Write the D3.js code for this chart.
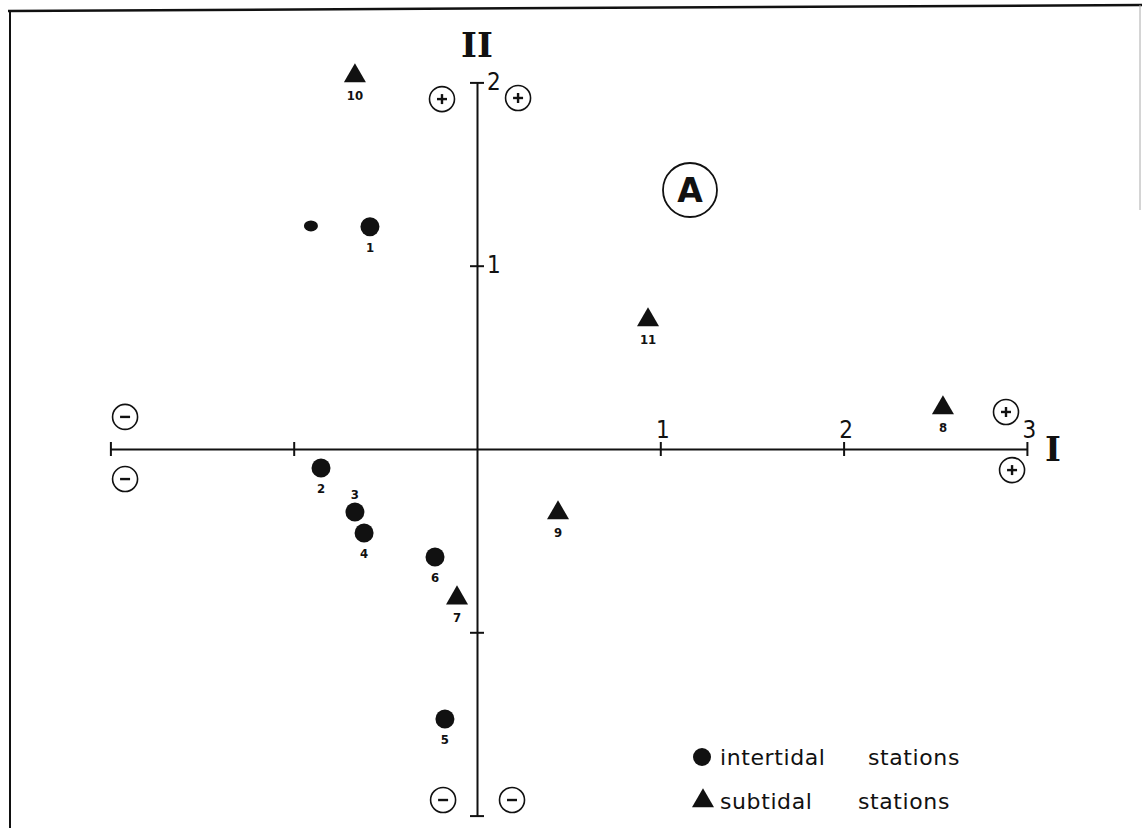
<!DOCTYPE html>
<html>
<head>
<meta charset="UTF-8">
<title>Stations ordination</title>
<script src="https://d3js.org/d3.v7.min.js"></script>
<style>
    body, html {
        margin: 0;
        padding: 0;
        background: #fff;
    }
    .tick text {
        font-family: "DejaVu Sans Condensed", "DejaVu Sans", sans-serif;
        font-size: 24px;
        fill: #111;
    }
    .ptLabel {
        font-family: "DejaVu Sans Condensed", "DejaVu Sans", sans-serif;
        font-size: 13px;
        font-weight: bold;
        fill: #111;
    }
    .legendText {
        font-family: "DejaVu Sans", sans-serif;
        font-size: 22px;
        letter-spacing: 0.6px;
        fill: #111;
    }
</style>
</head>
<body>
<div id="chart"></div>
<script>
    // axis I (x) and axis II (y) ticks
    const xTicks = [-2, -1, 0, 1, 2, 3];
    const yTicks = [-2, -1, 0, 1, 2];

    // intertidal stations (circles)
    const intertidalIds = [1, 2, 3, 4, 5, 6];
    const intertidalX = [-0.584, -0.851, -0.666, -0.616, -0.175, -0.229];
    const intertidalY = [1.212, -0.104, -0.344, -0.458, -1.473, -0.589];

    // subtidal stations (triangles)
    const subtidalIds = [7, 8, 9, 10, 11];
    const subtidalX = [-0.109, 2.542, 0.442, -0.666, 0.933];
    const subtidalY = [-0.813, 0.224, -0.349, 2.035, 0.704];

    // small unlabeled dot next to station 1
    const strayDot = [-0.906, 1.217];

    // circled + / - signs at the ends of both axes
    const signText = ["+", "+", "−", "−", "−", "−", "+", "+"];
    const signX = [-0.191, 0.224, -0.185, 0.191, -1.920, -1.920, 2.886, 2.919];
    const signY = [1.909, 1.915, -1.915, -1.915, 0.175, -0.164, 0.202, -0.115];

    const panelLabel = "A";
    const panelPos = [1.162, 1.413];

    const legendItems = [["intertidal", "stations"], ["subtidal", "stations"]];

    const width = 1142, height = 828;

    const svg = d3.select("#chart").append("svg")
        .attr("width", width)
        .attr("height", height);

    // scanned page frame
    svg.append("line").attr("x1", 8).attr("y1", 11).attr("x2", 1142).attr("y2", 5)
        .attr("stroke", "#111").attr("stroke-width", 2.5);
    svg.append("line").attr("x1", 10).attr("y1", 11).attr("x2", 10).attr("y2", 828)
        .attr("stroke", "#111").attr("stroke-width", 2);
    svg.append("line").attr("x1", 1140).attr("y1", 5).attr("x2", 1140).attr("y2", 210)
        .attr("stroke", "#aaa").attr("stroke-width", 1);

    const x = d3.scaleLinear().domain([-2, 3]).range([110.4, 1026.9]);
    const y = d3.scaleLinear().domain([-2, 2]).range([815.6, 82.4]);

    // axis I
    const xAxis = svg.append("g")
        .attr("transform", "translate(0," + y(0) + ")")
        .call(d3.axisTop(x).tickValues(xTicks.filter(d => d !== 0))
            .tickSize(7).tickSizeOuter(0)
            .tickFormat(d => d > 0 ? d : ""));
    xAxis.select(".domain").attr("stroke", "#111").attr("stroke-width", 2);
    xAxis.selectAll(".tick line").attr("y2", 7).attr("y1", -7)
        .attr("stroke", "#111").attr("stroke-width", 2);
    xAxis.selectAll(".tick text").attr("y", -11).attr("dx", 2);

    // axis II
    const yAxis = svg.append("g")
        .attr("transform", "translate(" + x(0) + ",0)")
        .call(d3.axisRight(y).tickValues(yTicks.filter(d => d !== 0))
            .tickSize(7).tickSizeOuter(0)
            .tickFormat(d => d > 0 ? d : ""));
    yAxis.select(".domain").attr("stroke", "#111").attr("stroke-width", 2);
    yAxis.selectAll(".tick line").attr("x1", -7)
        .attr("stroke", "#111").attr("stroke-width", 2);
    yAxis.selectAll(".tick text").attr("x", 10).attr("dy", "0.3em");

    // axis titles
    svg.append("text")
        .attr("x", x(0)).attr("y", 57)
        .attr("text-anchor", "middle")
        .style("font-family", "'DejaVu Serif', serif")
        .style("font-weight", "bold")
        .style("font-size", "34px")
        .style("fill", "#111")
        .text("II");
    svg.append("text")
        .attr("x", 1053).attr("y", y(0) + 12)
        .attr("text-anchor", "middle")
        .style("font-family", "'DejaVu Serif', serif")
        .style("font-weight", "bold")
        .style("font-size", "34px")
        .style("fill", "#111")
        .text("I");

    // circled signs
    const signs = signText.map((t, i) => ({t: t, x: signX[i], y: signY[i]}));
    const sg = svg.selectAll(".sign").data(signs).enter().append("g")
        .attr("class", "sign")
        .attr("transform", d => "translate(" + x(d.x) + "," + y(d.y) + ")");
    sg.append("circle").attr("r", 12.5)
        .attr("fill", "none").attr("stroke", "#111").attr("stroke-width", 1.6);
    sg.append("line")
        .attr("x1", -5).attr("x2", 5)
        .attr("stroke", "#111").attr("stroke-width", 2.4);
    sg.filter(d => d.t === "+").append("line")
        .attr("y1", -5).attr("y2", 5)
        .attr("stroke", "#111").attr("stroke-width", 2.4);

    // panel label
    const pg = svg.append("g")
        .attr("transform", "translate(" + x(panelPos[0]) + "," + y(panelPos[1]) + ")");
    pg.append("circle").attr("r", 27)
        .attr("fill", "none").attr("stroke", "#111").attr("stroke-width", 1.8);
    pg.append("text")
        .attr("text-anchor", "middle").attr("y", 12)
        .style("font-family", "'DejaVu Sans', sans-serif")
        .style("font-weight", "bold")
        .style("font-size", "33px")
        .style("fill", "#111")
        .text(panelLabel);

    // stations
    const intertidal = intertidalIds.map((id, i) => ({id: id, x: intertidalX[i], y: intertidalY[i]}));
    const subtidal = subtidalIds.map((id, i) => ({id: id, x: subtidalX[i], y: subtidalY[i]}));

    svg.append("ellipse")
        .attr("cx", x(strayDot[0])).attr("cy", y(strayDot[1]))
        .attr("rx", 7).attr("ry", 5.5).attr("fill", "#111");

    svg.selectAll(".inter").data(intertidal).enter().append("circle")
        .attr("class", "inter")
        .attr("cx", d => x(d.x)).attr("cy", d => y(d.y))
        .attr("r", 9.5).attr("fill", "#111");

    const tri = d3.symbol().type(d3.symbolTriangle).size(210);
    svg.selectAll(".sub").data(subtidal).enter().append("path")
        .attr("class", "sub")
        .attr("d", tri)
        .attr("transform", d => "translate(" + x(d.x) + "," + y(d.y) + ")")
        .attr("fill", "#111");

    svg.selectAll(".interLab").data(intertidal).enter().append("text")
        .attr("class", "ptLabel")
        .attr("text-anchor", "middle")
        .attr("x", d => x(d.x))
        .attr("y", d => d.id === 3 ? y(d.y) - 13 : y(d.y) + 25)
        .text(d => d.id);

    svg.selectAll(".subLab").data(subtidal).enter().append("text")
        .attr("class", "ptLabel")
        .attr("text-anchor", "middle")
        .attr("x", d => x(d.x))
        .attr("y", d => y(d.y) + 24)
        .text(d => d.id);

    // legend
    const lg = svg.append("g").attr("transform", "translate(702,757)");
    lg.append("circle").attr("r", 9).attr("fill", "#111");
    lg.append("path").attr("d", tri).attr("transform", "translate(1,44)").attr("fill", "#111");
    const wordX = [[18, 166], [18, 156]];
    legendItems.forEach((words, i) => {
        words.forEach((w, j) => {
            lg.append("text").attr("class", "legendText")
                .attr("x", wordX[i][j]).attr("y", 8 + i * 44)
                .text(w);
        });
    });
</script>
</body>
</html>
